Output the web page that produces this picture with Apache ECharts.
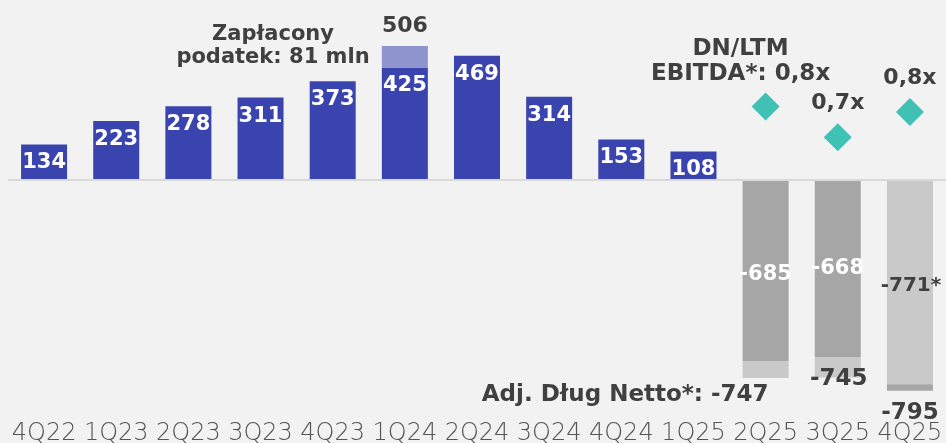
<!DOCTYPE html>
<html>
<head>
<meta charset="utf-8">
<script src="https://cdn.jsdelivr.net/npm/echarts@6/dist/echarts.min.js"></script>
<style>
html,body{margin:0;padding:0;background:#f2f2f2;}
#chart{width:946px;height:443px;}
</style>
</head>
<body>
<div id="chart"></div>
<script>
// ---- data ----
const categories = ['4Q22','1Q23','2Q23','3Q23','4Q23','1Q24','2Q24','3Q24','4Q24','1Q25','2Q25','3Q25','4Q25'];
// net cash (positive, mln)
const netCash = [134, 223, 278, 311, 373, 425, 469, 314, 153, 108, null, null, null];
// tax paid on top of 1Q24
const taxPaid = [null, null, null, null, null, 81, null, null, null, null, null, null, null];
// net debt (negative)
const netDebt = [null, null, null, null, null, null, null, null, null, null, -685, -668, -771];
// adjusted net debt totals
const adjNetDebt = [null, null, null, null, null, null, null, null, null, null, -747, -745, -795];
// DN / LTM EBITDA ratio
const ratio = [null, null, null, null, null, null, null, null, null, null, 0.81, 0.70, 0.79];

const BOLD = 'DejaVu Sans';
const DARK = '#404040';
const GREY_D = '#a6a6a6';
const GREY_L = '#c9c9c9';

const idx2Q25 = 10, idx3Q25 = 11, idx4Q25 = 12;

// net debt split: first segment (dark for 2Q25/3Q25, light for 4Q25)
const debtDarkFirst = netDebt.map((v, i) => (i === idx2Q25 || i === idx3Q25) ? v : null);
const debtLightFirst = netDebt.map((v, i) => i === idx4Q25 ? v : null);
const adjDiff = adjNetDebt.map((v, i) => (v == null || netDebt[i] == null) ? null : v - netDebt[i]);

const fmtRatio = v => v.toFixed(1).replace('.', ',') + 'x';

const adjLightData = adjDiff.map((v, i) => {
  if (i === idx2Q25) return {value: v, label: {show: true, position: ['50%', '100%'], align: 'right', verticalAlign: 'top',
      offset: [3, 6], fontSize: 23, lineHeight: 23, formatter: 'Adj. Dług Netto*: ' + adjNetDebt[i]}};
  if (i === idx3Q25) return {value: v, label: {show: true, position: ['50%', '100%'], align: 'center', verticalAlign: 'middle',
      offset: [1, 2], formatter: String(adjNetDebt[i])}};
  return null;
});
const adjDarkData = adjDiff.map((v, i) => i === idx4Q25 ? {value: v, label: {show: true, position: 'bottom', distance: 11,
      formatter: String(adjNetDebt[i])}} : null);

const debtDarkData = debtDarkFirst.map((v, i) => v == null ? null :
  {value: v, label: {offset: [0, i === idx2Q25 ? 4 : 0]}});

const ratioData = ratio.map((v, i) => {
  if (v == null) return null;
  if (i === idx2Q25) return {value: v, label: {formatter: 'DN/LTM\nEBITDA*: ' + fmtRatio(v), fontSize: 23, lineHeight: 25,
      distance: 6, offset: [-25, 0]}};
  return v;
});

const chart = echarts.init(document.getElementById('chart'), null, {renderer: 'canvas'});
chart.setOption({
  backgroundColor: '#f2f2f2',
  animation: false,
  grid: {left: 8, right: 0, top: 21, bottom: 51, containLabel: false, outerBoundsMode: 'none'},
  xAxis: {
    type: 'category', data: categories,
    axisLine: {show: false, onZero: false}, axisTick: {show: false},
    axisLabel: {interval: 0, margin: 30, fontFamily: 'DejaVu Sans', fontWeight: 200, fontSize: 24, lineHeight: 24, color: '#555555'}
  },
  yAxis: [
    {type: 'value', min: -800, max: 600, show: false, splitLine: {show: false}},
    {type: 'value', min: -0.21, max: 1.115, show: false, splitLine: {show: false}}
  ],
  series: [
    {
      name: 'Gotówka netto', type: 'bar', stack: 'all', data: netCash, barWidth: 46,
      itemStyle: {color: '#3a44ae'},
      label: {show: true, position: 'insideTop', distance: 8, color: '#fff', fontFamily: BOLD, fontWeight: 'bold', fontSize: 21, lineHeight: 21},
      markLine: {silent: true, symbol: 'none', label: {show: false},
        lineStyle: {color: '#d9d9d9', width: 2, type: 'solid'}, data: [{yAxis: 0}]}
    },
    {
      name: 'Zapłacony podatek', type: 'bar', stack: 'all', data: taxPaid, barWidth: 46,
      itemStyle: {color: '#8e94ce'},
      label: {show: true, position: 'top', distance: 9, color: DARK, fontFamily: BOLD, fontWeight: 'bold', fontSize: 22, lineHeight: 22,
        formatter: p => String(netCash[p.dataIndex] + taxPaid[p.dataIndex])}
    },
    {
      name: 'Dług netto', type: 'bar', stack: 'all', data: debtDarkData, barWidth: 46,
      itemStyle: {color: GREY_D},
      label: {show: true, position: 'inside', color: '#fff', fontFamily: BOLD, fontWeight: 'bold', fontSize: 21, lineHeight: 21}
    },
    {
      name: 'Dług netto 4Q25', type: 'bar', stack: 'all', data: debtLightFirst, barWidth: 46,
      itemStyle: {color: GREY_L},
      label: {show: true, position: 'inside', offset: [1, 4], color: DARK, fontFamily: BOLD, fontWeight: 'bold', fontSize: 20, lineHeight: 20,
        formatter: p => p.value + '*'}
    },
    {
      name: 'Adj. dług netto', type: 'bar', stack: 'all', data: adjLightData, barWidth: 46,
      itemStyle: {color: GREY_L},
      label: {show: false, color: DARK, fontFamily: BOLD, fontWeight: 'bold', fontSize: 23, lineHeight: 23}
    },
    {
      name: 'Adj. dług netto 4Q25', type: 'bar', stack: 'all', data: adjDarkData, barWidth: 46,
      itemStyle: {color: GREY_D},
      label: {show: false, color: DARK, fontFamily: BOLD, fontWeight: 'bold', fontSize: 23, lineHeight: 23}
    },
    {
      name: 'DN/LTM EBITDA', type: 'scatter', yAxisIndex: 1, data: ratioData,
      symbol: 'diamond', symbolSize: 28, itemStyle: {color: '#40c1b6', opacity: 1},
      label: {show: true, position: 'top', distance: 9, color: DARK, fontFamily: BOLD, fontWeight: 'bold', fontSize: 22, lineHeight: 22,
        formatter: p => fmtRatio(p.value)}
    }
  ],
  graphic: [{
    type: 'text', x: 273, y: 23, silent: true,
    style: {text: 'Zapłacony\npodatek: 81 mln', textAlign: 'center', textVerticalAlign: 'top',
      font: 'bold 21px "DejaVu Sans"', lineHeight: 23, fill: DARK}
  }]
});
</script>
</body>
</html>
